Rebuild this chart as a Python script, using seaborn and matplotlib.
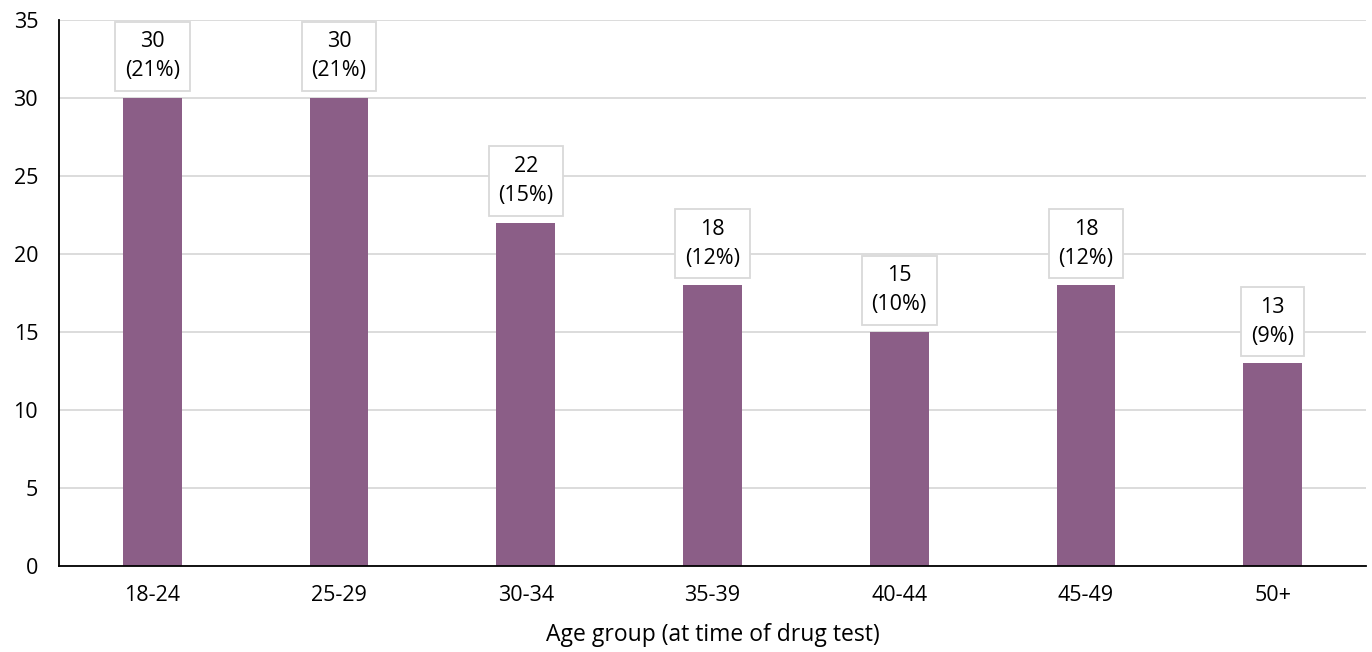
import matplotlib
matplotlib.use("Agg")
import matplotlib.pyplot as plt
import seaborn as sns
import pandas as pd

categories = ["18-24", "25-29", "30-34", "35-39", "40-44", "45-49", "50+"]
counts = [30, 30, 22, 18, 15, 18, 13]
percents = ["21%", "21%", "15%", "12%", "10%", "12%", "9%"]

sns.set_style("white")
plt.rcParams['font.family'] = ['Open Sans', 'DejaVu Sans']
plt.rcParams['text.color'] = 'black'
plt.rcParams['axes.labelcolor'] = 'black'
plt.rcParams['xtick.color'] = 'black'
plt.rcParams['ytick.color'] = 'black'

df = pd.DataFrame({"age": categories, "count": counts})

fig = plt.figure(figsize=(13.72, 6.52), dpi=100)
ax = fig.add_axes([59/1372, 86/652, (1366-59)/1372, (566-20)/652])

sns.barplot(data=df, x="age", y="count", color="#8B5E87", saturation=1,
            width=0.315, linewidth=0, ax=ax)

ax.set_ylim(0, 35)
ax.set_yticks(range(0, 36, 5))
ax.set_xlim(-0.5, len(categories) - 0.5)
ax.yaxis.grid(True, color="#D9D9D9", linewidth=1.3)
ax.set_axisbelow(True)
for s in ["top", "right"]:
    ax.spines[s].set_visible(False)
for s in ["left", "bottom"]:
    ax.spines[s].set_color("black")
    ax.spines[s].set_linewidth(1.3)
ax.tick_params(axis="x", length=0, labelsize=15.5, pad=14)
ax.tick_params(axis="y", length=0, labelsize=15.5, pad=15)
ax.set_ylabel("")
ax.set_xlabel("Age group (at time of drug test)", fontsize=16.5, labelpad=12)

for i, (c, p) in enumerate(zip(counts, percents)):
    ax.annotate(f"{c}\n({p})", xy=(i, c), xytext=(0, 12), textcoords="offset points",
                ha="center", va="bottom", fontsize=15.5, linespacing=1.5,
                bbox=dict(boxstyle="square,pad=0.45", fc="white", ec="#D9D9D9", lw=1.3))

fig.savefig("out.png", dpi=100)
